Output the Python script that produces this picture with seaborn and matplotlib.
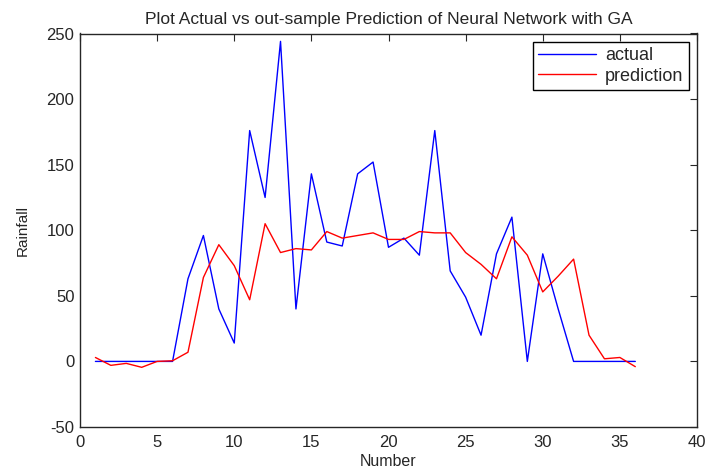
import numpy as np
import matplotlib
matplotlib.use('Agg')
import matplotlib.pyplot as plt
import pandas as pd
import seaborn as sns

number = list(range(1, 37))
actual = [0, 0, 0, 0, 0, 0, 63, 96, 40, 14, 176, 125, 244, 40, 143, 91,
          88, 143, 152, 87, 94, 81, 176, 69, 49, 20, 82, 110, 0, 82, 40, 0,
          0, 0, 0, 0]
prediction = [3, -3, -1.5, -4.5, 0, 0.5, 7, 64, 89, 73, 47, 105, 83, 86, 85, 99,
              94, 96, 98, 93, 93, 99, 98, 98, 83, 74, 63, 95, 81, 53, 65, 78,
              20, 2, 3, -4]

df = pd.DataFrame({'Number': number * 2,
                   'Rainfall': actual + prediction,
                   'series': ['actual'] * 36 + ['prediction'] * 36})

sns.set_style('white')
plt.rcParams['font.family'] = ['Liberation Sans', 'DejaVu Sans']
plt.rcParams['axes.unicode_minus'] = False

fig = plt.figure(figsize=(7.05, 4.68), dpi=100)
ax = fig.add_axes([80/705, 1 - 427/468, 617/705, 393.5/468])

sns.lineplot(data=df, x='Number', y='Rainfall', hue='series',
             palette={'actual': '#0000ff', 'prediction': '#ff0000'},
             linewidth=1.0, ax=ax)

ax.set_xlim(0, 40)
ax.set_ylim(-50, 250)
ax.set_xticks(np.arange(0, 41, 5))
ax.set_yticks(np.arange(-50, 251, 50))
ax.tick_params(direction='in', top=True, right=True, length=5, width=0.8,
               labelsize=12, color='#262626', labelcolor='#262626', pad=4)
ax.tick_params(axis='x', pad=6)
for s in ax.spines.values():
    s.set_color('#262626')
    s.set_linewidth(1.0)

ax.set_title('Plot Actual vs out-sample Prediction of Neural Network with GA',
             fontsize=12.5, color='#262626', pad=7)
ax.set_xlabel('Number', fontsize=11.5, color='#262626', labelpad=3)
ax.set_ylabel('Rainfall', fontsize=11, color='#262626', labelpad=12)

leg = ax.legend(loc='upper right', fontsize=13, frameon=True, fancybox=False,
                edgecolor='black', framealpha=1, borderpad=0.3,
                handlelength=3.2, handletextpad=0.5, labelspacing=0.2,
                borderaxespad=0.45)
leg.get_frame().set_linewidth(1.0)
for t in leg.get_texts():
    t.set_color('#262626')

fig.savefig('out.png', dpi=100)
